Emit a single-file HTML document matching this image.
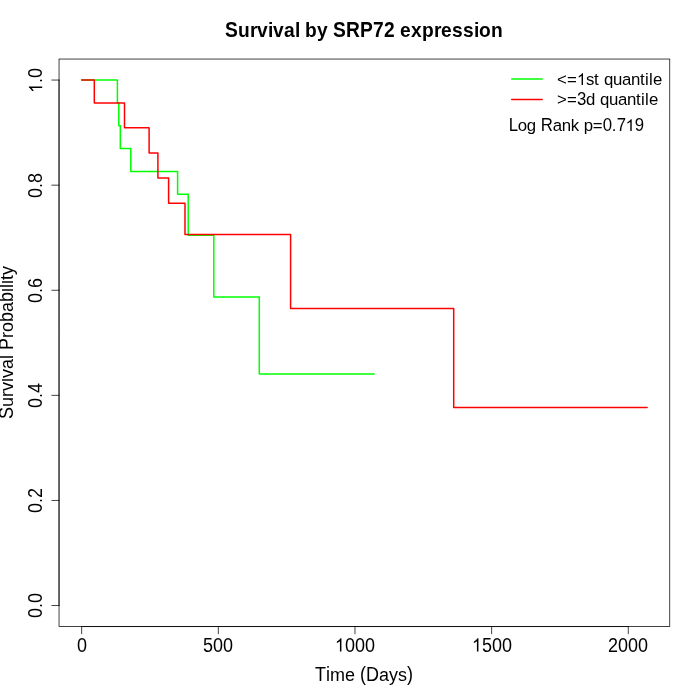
<!DOCTYPE html>
<html>
<head>
<meta charset="utf-8">
<title>Survival by SRP72 expression</title>
<style>
html,body{margin:0;padding:0;background:#fff;}
body{width:700px;height:700px;overflow:hidden;}
svg{display:block;}
text{font-family:"Liberation Sans",sans-serif;fill:#000;white-space:pre;}
.ax{stroke:#000;stroke-width:0.75;fill:none;stroke-linecap:round;}
.cv{stroke-width:1.5;fill:none;stroke-linecap:round;stroke-linejoin:round;}
</style>
</head>
<body>
<svg width="700" height="700" viewBox="0 0 700 700">
<rect x="0" y="0" width="700" height="700" fill="#fff"/>

<g opacity="0.9999">
<!-- survival curves -->
<path class="cv" stroke="#00ff00" d="M81.66,80.06 H117.4 V102.9 H118.8 V125.75 H120.3 V148.6 H130.8 V171.45 H177.6 V194.3 H188.2 V235.3 H213.8 V297.1 H259.3 V374 H374.2"/>
<path class="cv" stroke="#ff0000" d="M81.66,80.06 H94.3 V102.9 H124.5 V127.8 H149.1 V153 H157.9 V178.1 H168.6 V203.2 H185 V234.5 H290.6 V308.5 H453.7 V407.5 H647.14"/>

<!-- x axis -->
<path class="ax" d="M81.66,626.56 H628.29 M81.66,626.56 v7.2 M218.32,626.56 v7.2 M354.97,626.56 v7.2 M491.63,626.56 v7.2 M628.29,626.56 v7.2"/>
<text transform="translate(81.66,651.6) scale(1,1.11)" style="font-size:18px;" x="-4.66" y="0">0</text>
<text transform="translate(218.316,651.6) scale(1,1.11)" style="font-size:18px;" x="-15.3165 -5.3165 4.6835" y="0">500</text>
<path transform="translate(354.973,651.6) translate(-19.973,0) scale(0.0084375,-0.00912173)" d="M763 0H583V1147Q518 1085 412.5 1023T223 930V1104Q373 1175 485.5 1275T645 1466H763Z" fill="#000"/>
<text transform="translate(354.973,651.6) scale(1,1.11)" style="font-size:18px;" x="-9.973 0.027 10.027" y="0">000</text>
<path transform="translate(491.63,651.6) translate(-19.6295,0) scale(0.0084375,-0.00912173)" d="M763 0H583V1147Q518 1085 412.5 1023T223 930V1104Q373 1175 485.5 1275T645 1466H763Z" fill="#000"/>
<text transform="translate(491.63,651.6) scale(1,1.11)" style="font-size:18px;" x="-9.6295 0.3705 10.3705" y="0">500</text>
<text transform="translate(628.286,651.6) scale(1,1.11)" style="font-size:18px;" x="-20.286 -10.286 -0.286 9.714" y="0">2000</text>
<!-- y axis -->
<path class="ax" d="M59.04,605.54 V80.06 M59.04,605.54 h-7.2 M59.04,500.44 h-7.2 M59.04,395.35 h-7.2 M59.04,290.25 h-7.2 M59.04,185.16 h-7.2 M59.04,80.06 h-7.2"/>
<text transform="translate(42.2,605.54) rotate(-90) scale(1,1.11)" style="font-size:18px;" x="-12.46 2.54" y="0">00</text>
<text transform="translate(42.2,605.54) rotate(-90) scale(1,1.035)" style="font-size:18px;" x="-2.46" y="0">.</text>
<text transform="translate(42.2,500.444) rotate(-90) scale(1,1.11)" style="font-size:18px;" x="-12.556 2.444" y="0">02</text>
<text transform="translate(42.2,500.444) rotate(-90) scale(1,1.035)" style="font-size:18px;" x="-2.556" y="0">.</text>
<text transform="translate(42.2,395.348) rotate(-90) scale(1,1.11)" style="font-size:18px;" x="-12.652 2.348" y="0">04</text>
<text transform="translate(42.2,395.348) rotate(-90) scale(1,1.035)" style="font-size:18px;" x="-2.652" y="0">.</text>
<text transform="translate(42.2,290.252) rotate(-90) scale(1,1.11)" style="font-size:18px;" x="-12.748 2.252" y="0">06</text>
<text transform="translate(42.2,290.252) rotate(-90) scale(1,1.035)" style="font-size:18px;" x="-2.748" y="0">.</text>
<text transform="translate(42.2,185.156) rotate(-90) scale(1,1.11)" style="font-size:18px;" x="-12.844 2.156" y="0">08</text>
<text transform="translate(42.2,185.156) rotate(-90) scale(1,1.035)" style="font-size:18px;" x="-2.844" y="0">.</text>
<path transform="translate(42.2,80.06) rotate(-90) translate(-12.94,0) scale(0.0084375,-0.00912173)" d="M763 0H583V1147Q518 1085 412.5 1023T223 930V1104Q373 1175 485.5 1275T645 1466H763Z" fill="#000"/>
<text transform="translate(42.2,80.06) rotate(-90) scale(1,1.11)" style="font-size:18px;" x="2.06" y="0">0</text>
<text transform="translate(42.2,80.06) rotate(-90) scale(1,1.035)" style="font-size:18px;" x="-2.94" y="0">.</text>
<!-- box -->
<rect class="ax" x="59.04" y="59.04" width="610.72" height="567.52"/>
<!-- titles -->
<text transform="translate(364.4,36.8) scale(1,1.16)" style="font-size:19.2px;font-weight:bold;" x="-139.4 -31.4 -18.4 -4.4 8.6 19.6" y="0">SSRP72</text>
<text transform="translate(364.4,36.8) scale(1,1.085)" style="font-size:19.2px;font-weight:bold;" x="-96.4 -69.4 -59.4 109.6" y="0">ilbi</text>
<text transform="translate(364.4,36.8) scale(1,1.085)" style="font-size:19.2px;font-weight:bold;" x="-126.4 -114.4 -107.4 -91.4 -80.4 -47.4 35.6 46.6 57.6 69.6 76.6 87.6 98.6 114.6 126.6" y="0">urvvayexpresson</text>
<text transform="translate(364.4,680.7) scale(1,1.11)" style="font-size:18px;" x="-49.4 1.6" y="0">TD</text>
<text transform="translate(364.4,680.7) scale(1,1.085)" style="font-size:18px;" x="-38.4 -4.4 42.6" y="0">i()</text>
<text transform="translate(364.4,680.7) scale(1,1.035)" style="font-size:18px;" x="-34.4 -19.4 14.6 24.6 33.6" y="0">meays</text>
<text transform="translate(13.2,342.8) rotate(-90) scale(1,1.11)" style="font-size:18px;" x="-76.2 -7.2" y="0">SP</text>
<text transform="translate(13.2,342.8) rotate(-90) scale(1,1.085)" style="font-size:18px;" x="-39.2 -16.2 20.8 40.8 50.8 54.8 58.8" y="0">ilbbili</text>
<text transform="translate(13.2,342.8) rotate(-90) scale(1,1.035)" style="font-size:18px;" x="-64.2 -54.2 -48.2 -35.2 -26.2 4.8 10.8 30.8 62.8 67.8" y="0">urvvaroaty</text>
<!-- legend -->
<path class="cv" d="M511.7,79 H542.1" stroke="#00ff00"/>
<path class="cv" d="M511.7,99.4 H542.1" stroke="#ff0000"/>
<path transform="translate(557,84.9) translate(20,0) scale(0.007875,-0.00797672)" d="M763 0H583V1147Q518 1085 412.5 1023T223 930V1104Q373 1175 485.5 1275T645 1466H763Z" fill="#000"/>
<text transform="translate(557,84.9) scale(1,1.03)" style="font-size:16.8px;" x="88 92" y="0">il</text>
<text transform="translate(557,84.9) scale(1,1.01)" style="font-size:16.8px;" x="0 10 29 37 47 56 65 74 83 96" y="0">&lt;=stquante</text>
<text transform="translate(557,104.9) scale(1,1.04)" style="font-size:16.8px;" x="20" y="0">3</text>
<text transform="translate(557,104.9) scale(1,1.03)" style="font-size:16.8px;" x="29 84 88" y="0">dil</text>
<text transform="translate(557,104.9) scale(1,1.01)" style="font-size:16.8px;" x="0 10 43 52 61 70 79 92" y="0">&gt;=quante</text>
<path transform="translate(508.7,130.9) translate(117,0) scale(0.007875,-0.00797672)" d="M763 0H583V1147Q518 1085 412.5 1023T223 930V1104Q373 1175 485.5 1275T645 1466H763Z" fill="#000"/>
<text transform="translate(508.7,130.9) scale(1,1.04)" style="font-size:16.8px;" x="0 32 94 108 126" y="0">LR079</text>
<text transform="translate(508.7,130.9) scale(1,1.03)" style="font-size:16.8px;" x="62" y="0">k</text>
<text transform="translate(508.7,130.9) scale(1,1.01)" style="font-size:16.8px;" x="9 18 44 53 75 84 103" y="0">oganp=.</text>
</g>
</svg>
</body>
</html>
